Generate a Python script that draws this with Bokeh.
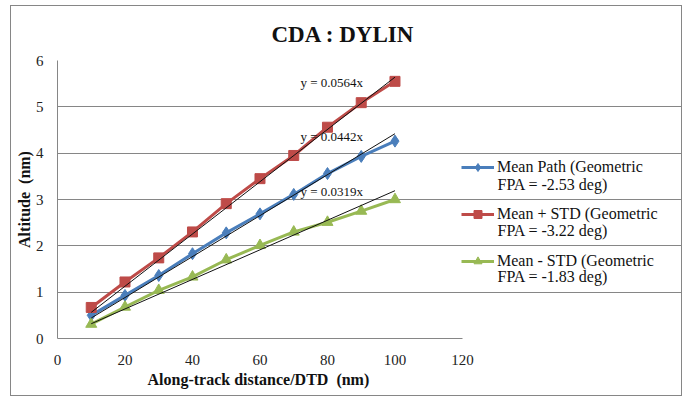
from bokeh.plotting import figure
from bokeh.models import Range1d, Label, Legend, LegendItem, FixedTicker, Title
from bokeh.embed import file_html
from bokeh.resources import INLINE

# ---- data ----
distance = [10, 20, 30, 40, 50, 60, 70, 80, 90, 100]
mean_path = [0.50, 0.93, 1.36, 1.83, 2.28, 2.69, 3.11, 3.56, 3.93, 4.26]
mean_plus_std = [0.67, 1.22, 1.74, 2.30, 2.91, 3.45, 3.95, 4.56, 5.09, 5.55]
mean_minus_std = [0.31, 0.68, 1.04, 1.33, 1.70, 2.01, 2.30, 2.51, 2.75, 3.00]
trend_slopes = [0.0564, 0.0442, 0.0319]
trend_labels = ["y = 0.0564x", "y = 0.0442x", "y = 0.0319x"]
trend_label_y = [5.52, 4.36, 3.17]
trend_x = [10, 100]
legend_line1 = ["Mean Path (Geometric", "Mean + STD (Geometric", "Mean - STD (Geometric"]
legend_line2 = ["FPA = -2.53 deg)", "FPA = -3.22 deg)", "FPA = -1.83 deg)"]
x_ticks = [0, 20, 40, 60, 80, 100, 120]
y_ticks = [0, 1, 2, 3, 4, 5, 6]
title_text = "CDA : DYLIN"
x_label = "Along-track distance/DTD \u00a0(nm)"
y_label = "Altitude \u00a0(nm)"

BLUE = "#4A7EBB"
RED = "#BE4B48"
GREEN = "#98B954"
GRID = "#868686"
FONT = "Liberation Serif"

# frame spans the plot area plus the legend region; axes and grid are bounded to 0..120
p = figure(width=670, height=389, output_backend="svg", toolbar_location=None,
           x_range=Range1d(0, 184.9), y_range=Range1d(0, 6),
           min_border_left=46, min_border_right=0, min_border_top=54, min_border_bottom=57,
           margin=(6, 5, 2, 11),
           styles={"outline": "1px solid #868686"})
p.outline_line_color = None
p.background_fill_color = "white"
p.border_fill_color = "white"

p.title.text = title_text
p.title.align = "left"
p.title.offset = 214
p.title.vertical_align = "top"
p.title.text_font = FONT
p.title.text_font_size = "23px"
p.title.text_font_style = "bold"
p.title.text_color = "#111111"
p.title.standoff = 24

p.xgrid.grid_line_color = None
p.ygrid.grid_line_color = GRID
p.ygrid.grid_line_width = 1
p.ygrid.bounds = (0, 120)

for ax in (p.xaxis[0], p.yaxis[0]):
    ax.axis_line_color = GRID
    ax.major_tick_line_color = None
    ax.minor_tick_line_color = None
    ax.major_tick_out = 0
    ax.major_tick_in = 0
    ax.major_label_text_font = FONT
    ax.major_label_text_font_size = "15px"
    ax.major_label_text_color = "#222222"
    ax.axis_label_text_font = FONT
    ax.axis_label_text_font_size = "16px"
    ax.axis_label_text_font_style = "bold"
    ax.axis_label_text_color = "#111111"

p.xaxis.bounds = (0, 120)
p.yaxis.bounds = (0, 6)
p.xaxis.ticker = FixedTicker(ticks=x_ticks)
p.yaxis.ticker = FixedTicker(ticks=y_ticks)
p.yaxis.axis_label = y_label
p.xaxis.major_label_standoff = 16
p.yaxis.major_label_standoff = 14
p.yaxis.axis_label_standoff = 0

# x-axis title, placed under the 0..120 span
p.add_layout(Title(text=x_label, align="left", offset=90, standoff=2,
                   text_font=FONT, text_font_size="16px", text_font_style="bold",
                   text_color="#111111"), "below")

# series
l1 = p.line(distance, mean_path, line_color=BLUE, line_width=3)
m1 = p.scatter(distance, mean_path, marker="diamond", size=12, fill_color=BLUE, line_color=BLUE)
l2 = p.line(distance, mean_plus_std, line_color=RED, line_width=3)
m2 = p.scatter(distance, mean_plus_std, marker="square", size=10, fill_color=RED, line_color=RED)
l3 = p.line(distance, mean_minus_std, line_color=GREEN, line_width=3)
m3 = p.scatter(distance, mean_minus_std, marker="triangle", size=11, fill_color=GREEN, line_color=GREEN)

# trend lines
for s in trend_slopes:
    p.line(trend_x, [s * x for x in trend_x], line_color="#111111", line_width=1)

for txt, yy in zip(trend_labels, trend_label_y):
    p.add_layout(Label(x=72, y=yy, text=txt, text_font=FONT, text_font_size="13px",
                       text_baseline="middle", text_align="left", text_color="#111111"))

# legend
legend = Legend(items=[
    LegendItem(label=legend_line1[0], renderers=[l1, m1]),
    LegendItem(label=legend_line1[1], renderers=[l2, m2]),
    LegendItem(label=legend_line1[2], renderers=[l3, m3]),
], location=(404, 67), orientation="vertical",
    label_text_font=FONT, label_text_font_size="16px", label_text_color="#111111",
    glyph_width=33, glyph_height=20, label_height=20, spacing=27,
    label_standoff=3, padding=0, margin=0,
    border_line_color=None, background_fill_alpha=0)
p.add_layout(legend, "center")

for txt, yy in zip(legend_line2, [154.5, 108, 62]):
    p.add_layout(Label(x=440, y=yy, x_units="screen", y_units="screen", text=txt,
                       text_font=FONT, text_font_size="16px", text_color="#111111",
                       text_align="left", text_baseline="middle"))

open("out.html", "w").write(file_html(p, INLINE))
